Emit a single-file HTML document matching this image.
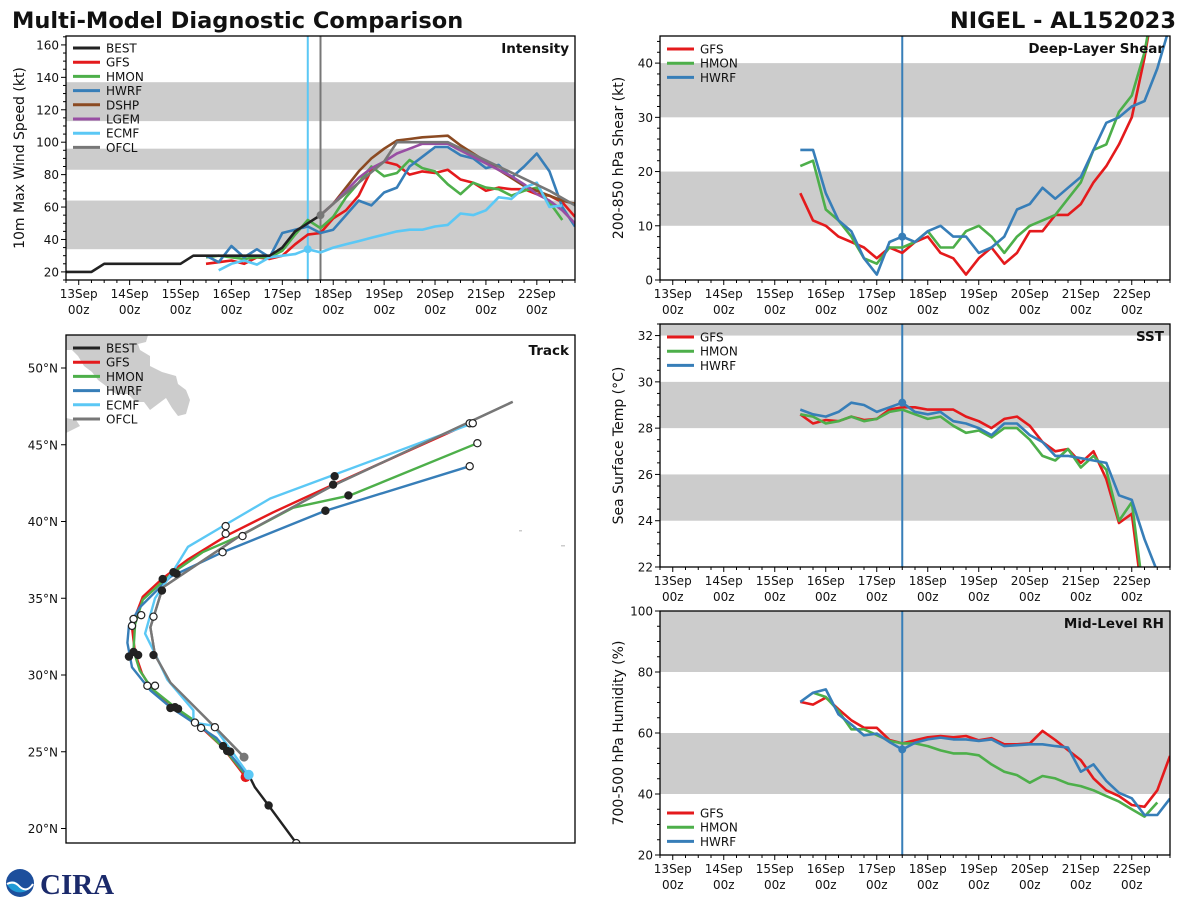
<!DOCTYPE html>
<html><head><meta charset="utf-8">
<style>
html,body{margin:0;padding:0;background:#fff;}
svg{display:block;font-family:"DejaVu Sans","Liberation Sans",sans-serif;}
</style></head>
<body>
<svg id="fig" width="1200" height="900" viewBox="0 0 1200 900" xmlns="http://www.w3.org/2000/svg">
<rect width="1200" height="900" fill="#fff"/>
<text x="12" y="28" font-size="22.5" font-weight="bold" fill="#111">Multi-Model Diagnostic Comparison</text>
<text x="1176" y="28" font-size="22.5" font-weight="bold" fill="#111" text-anchor="end">NIGEL - AL152023</text>
<g id="logo">
<circle cx="20" cy="883" r="14" fill="#1d4f9c"/>
<path d="M7,884 Q14,878 20,886 Q27,894 33,883 A14,14 0 0 1 7,884 Z" fill="#1f9ad6"/>
<path d="M7,884 Q14,880 20,887 Q27,893 33,884" stroke="#fff" stroke-width="2" fill="none"/>
<text x="40" y="894" font-family="Liberation Serif,serif" font-size="29" font-weight="bold" fill="#1b2a6b">CIRA</text>
</g>
</svg>
<script>
// ---------- shared ----------
const dayLabels = ['13Sep','14Sep','15Sep','16Sep','17Sep','18Sep','19Sep','20Sep','21Sep','22Sep'];
const hourLabel = '00z';
const nowDay = 4.5;
const ofclDay = 4.75;
const C = {BEST:'#222222',GFS:'#e41a1c',HMON:'#4daf4a',HWRF:'#377eb8',DSHP:'#8b4a22',LGEM:'#984ea3',ECMF:'#5bc8f5',OFCL:'#777777'};

// ---------- intensity data (kt), 6-hourly ----------
const intBestStart = -0.25;
const intBest = [20,20,20,25,25,25,25,25,25,25,30,30,30,30,30,30,30,35,45,50,55];
const intGfsStart = 2.5;
const intGfs = [25,26,27,25,29,28,30,37,43,44,53,58,67,83,88,86,80,82,81,83,77,75,70,72,71,71,68,67,63,54];
const intHmonStart = 2.5;
const intHmon = [29,30,29,28,29,29,33,43,52,47,54,66,75,85,79,81,89,84,82,74,68,75,72,71,67,70,72,63,52];
const intHwrfStart = 2.5;
const intHwrf = [30,26,36,29,34,29,44,46,48,44,46,55,64,61,69,72,85,91,97,97,92,90,84,86,78,85,93,82,60,48];
const intDshpStart = 4.75;
const intDshp = [55,62,72,82,90,96,101,102,103,103.5,104,98,93,88,83,78,73,70,67,64,62];
const intLgemStart = 4.75;
const intLgem = [55,62,70,78,84,88,93,96,99,99,99,95,91,87,83,79,74,68,64,58,50];
const intEcmfStart = 2.75;
const intEcmf = [21,25,27,24.5,29,30,31,34,32,35,37,39,41,43,45,46,46,48,49,56,55,58,66,65,72,75,60,61];
const intOfclDays = [4.75,5.0,5.5,6.0,6.25,7.25,8.25,9.25,9.75];
const intOfcl = [55,62,75,88,100,100,85,70,61];

// ---------- shear (kt) ----------
const shrStart = 2.5;
const shrGfs = [16,11,10,8,7,6,4,6,5,7,8,5,4,1,4,6,3,5,9,9,12,12,14,18,21,25,30,41,55];
const shrHmon = [21,22,13,11,8,4,3,6,6,7,9,6,6,9,10,8,5,8,10,11,12,15,18,24,25,31,34,42,55];
const shrHwrf = [24,24,16,11,9,4,1,7,8,7,9,10,8,8,5,6,8,13,14,17,15,17,19,24,29,30,32,33,39,47];

// ---------- SST (C) ----------
const sstStart = 2.5;
const sstGfs = [28.6,28.2,28.35,28.3,28.5,28.35,28.4,28.8,28.9,28.9,28.8,28.8,28.8,28.5,28.3,28.0,28.4,28.5,28.1,27.4,27.0,27.1,26.5,27.0,25.8,23.9,24.3,20.0];
const sstHmon = [28.6,28.5,28.2,28.3,28.5,28.3,28.4,28.7,28.8,28.6,28.4,28.5,28.1,27.8,27.9,27.6,28.0,28.0,27.5,26.8,26.6,27.1,26.3,26.8,26.2,24.0,24.8,20.5];
const sstHwrf = [28.8,28.6,28.5,28.7,29.1,29.0,28.7,28.9,29.1,28.7,28.6,28.7,28.3,28.2,28.0,27.7,28.2,28.2,27.7,27.4,26.8,26.8,26.7,26.6,26.5,25.1,24.9,23.2,21.8,20.0];

// ---------- RH (%) ----------
const rhGfsStart = 2.5;
const rhGfs = [70.2,69.3,71.6,67.8,64.2,61.7,61.7,57.7,56.6,57.6,58.6,59,58.6,59,57.6,58.3,56.3,56.3,56.6,60.7,57.7,54.4,51.1,45.1,41.2,39.3,36.4,35.8,41.2,52.5];
const rhHmonStart = 2.75;
const rhHmon = [73.2,71.8,67.2,61.2,61.2,59.3,57.4,56.6,56.6,55.7,54.3,53.3,53.3,52.7,49.7,47.3,46.2,43.7,45.9,45.1,43.4,42.6,41.2,39.3,37.5,35,32.6,37.2];
const rhHwrfStart = 2.5;
const rhHwrf = [70.2,73.2,74.3,66.1,62.8,59.2,59.8,57,54.6,56.8,57.9,58.5,57.9,57.9,57.4,57.9,55.7,56,56.3,56.3,55.7,55.2,47.3,49.7,44.3,40.4,38.6,33.1,33.1,38.5];

// ---------- track (lon, lat) ----------
const trkBest = [[-49.0,17.8],[-50.0,19.05],[-51.8,21.5],[-52.7,22.7],[-53.1,23.5]];
const trkGfs = [[-53.3,23.35],[-54.8,25.3],[-56.3,26.7],[-58.2,27.9],[-59.5,29.2],[-60.05,30.1],[-60.5,31.4],[-60.7,33.1],[-60.5,33.8],[-60.0,35.1],[-58.7,36.3],[-57.1,37.5],[-54.5,39.1],[-51.5,40.6],[-47.6,42.4],[-38.7,46.4]];
const trkHmon = [[-53.3,23.5],[-54.8,25.3],[-56.3,26.8],[-57.9,27.9],[-59.4,29.1],[-60.2,30.3],[-60.6,31.6],[-60.5,33.3],[-60.0,34.9],[-58.9,35.9],[-58.0,36.7],[-56.1,38.0],[-53.7,39.05],[-50.2,40.9],[-46.5,41.7],[-38.2,45.1]];
const trkHwrf = [[-53.2,23.5],[-55.2,25.9],[-56.7,26.9],[-58.2,27.9],[-59.5,29.0],[-60.7,30.5],[-61.0,32.1],[-60.9,33.2],[-60.2,34.4],[-58.2,36.4],[-54.8,38.0],[-48.1,40.7],[-38.7,43.6]];
const trkEcmf = [[-53.1,23.5],[-55.4,26.7],[-56.7,26.9],[-56.7,27.7],[-58.4,29.7],[-59.2,31.4],[-59.85,32.7],[-59.2,35.0],[-58.0,36.8],[-57.05,38.35],[-54.6,39.8],[-51.7,41.5],[-38.5,46.4]];
const trkOfcl = [[-53.4,24.65],[-55.3,26.6],[-56.6,27.9],[-58.2,29.5],[-59.2,31.3],[-59.5,33.1],[-58.7,35.7],[-53.7,39.05],[-47.7,42.3],[-35.9,47.8]];
const trkMarkLon = [-51.8,-50.0,-54.77,-54.5,-54.3,-56.6,-56.2,-55.3,-58.2,-57.9,-57.7,-59.7,-59.2,-60.9,-60.6,-60.3,-59.3,-60.6,-60.7,-60.1,-59.3,-58.7,-58.0,-57.8,-58.75,-54.6,-54.6,-53.5,-54.8,-47.6,-47.5,-46.6,-48.1,-38.7,-38.5,-38.2,-38.7];
const trkMarkLat = [21.5,19.05,25.37,25.05,25.0,26.9,26.55,26.6,27.85,27.9,27.8,29.3,29.3,31.2,31.5,31.3,31.3,33.65,33.2,33.9,33.8,36.25,36.7,36.6,35.5,39.7,39.2,39.05,38.0,42.4,42.95,41.7,40.7,46.4,46.4,45.1,43.6];
const trkMarkFill = [1,0,1,1,1,0,0,0,1,1,1,0,0,1,1,1,1,0,0,0,0,1,1,1,1,0,0,0,0,1,1,1,1,0,0,0,0];
const latTicks = [20,25,30,35,40,45,50];

// ---------- drawing ----------
const svg = document.getElementById('fig');
const NS = 'http://www.w3.org/2000/svg';
function mk(tag, attrs, parent){
  const e = document.createElementNS(NS, tag);
  for (const k in attrs) e.setAttribute(k, attrs[k]);
  (parent||svg).appendChild(e);
  return e;
}
let clipId = 0;

function tsPanel(p){
  const g = mk('g', {});
  
  
  const W = p.x1 - p.x0, H = p.y1 - p.y0;
  const xs = d => p.x0 + (d + 0.25) / 10 * W;
  const ys = v => p.y1 - (v - p.ymin) / (p.ymax - p.ymin) * H;
  const id = 'clip' + (clipId++);
  const cp = mk('clipPath', {id: id}, g);
  mk('rect', {x: p.x0, y: p.y0, width: W, height: H}, cp);
  const inner = mk('g', {'clip-path': 'url(#' + id + ')'}, g);
  p.bands.forEach(b => {
    const r = mk('rect', {x: p.x0, y: ys(b[1]), width: W, height: ys(b[0]) - ys(b[1]), fill: '#cccccc'}, inner);
    
    
  });
  p.vlines.forEach(v => {
    const l = mk('line', {x1: xs(v.d), x2: xs(v.d), y1: p.y0, y2: p.y1, stroke: v.c, 'stroke-width': 2}, inner);
    
    
  });
  p.series.forEach(s => {
    const pts = s.vals.map((v, i) => {
      const d = s.days ? s.days[i] : s.start + 0.25 * i;
      return xs(d).toFixed(1) + ',' + ys(v).toFixed(1);
    }).join(' ');
    const pl = mk('polyline', {points: pts, fill: 'none', stroke: s.c, 'stroke-width': 2.6, 'stroke-linejoin': 'round'}, inner);
    
    
  });
  (p.marks || []).forEach(m => {
    const c = mk('circle', {cx: xs(m.d), cy: ys(m.v), r: 4, fill: m.c}, inner);
    
    
  });
  mk('rect', {x: p.x0, y: p.y0, width: W, height: H, fill: 'none', stroke: '#000', 'stroke-width': 1.3}, g);
  for (let q = 0; q <= 40; q++) {
    const d = q / 4 - 0.25;
    if (d < -0.25 || d > 9.75) continue;
    const major = Math.abs(d - Math.round(d)) < 1e-6;
    mk('line', {x1: xs(d), x2: xs(d), y1: p.y1, y2: p.y1 + (major ? 5 : 3), stroke: '#000', 'stroke-width': 1}, g);
  }
  dayLabels.forEach((lab, i) => {
    const t1 = mk('text', {x: xs(i), y: p.y1 + 18, 'font-size': 12, 'text-anchor': 'middle', fill: '#111'}, g);
    t1.textContent = lab;
    
    
    const t2 = mk('text', {x: xs(i), y: p.y1 + 34, 'font-size': 12, 'text-anchor': 'middle', fill: '#111'}, g);
    t2.textContent = hourLabel;
    
    
  });
  for (let v = p.ymin; v <= p.ymax + 1e-6; v += p.yMinor) {
    const vv = Math.round(v * 1000) / 1000;
    const major = Math.abs(vv / p.yMajor - Math.round(vv / p.yMajor)) < 1e-6 && vv >= p.yFirst;
    if (vv < p.ymin) continue;
    mk('line', {x1: p.x0, x2: p.x0 - (major ? 5 : 3), y1: ys(vv), y2: ys(vv), stroke: '#000', 'stroke-width': 1}, g);
    if (major) {
      const t = mk('text', {x: p.x0 - 7, y: ys(vv) + 4.5, 'font-size': 12, 'text-anchor': 'end', fill: '#111'}, g);
      t.textContent = String(vv);
      
      
    }
  }
  const yl = mk('text', {x: 0, y: 0, 'font-size': 14, 'text-anchor': 'middle', fill: '#111', transform: 'translate(' + p.ylx + ',' + ((p.y0 + p.y1) / 2) + ') rotate(-90)'}, g);
  yl.textContent = p.ylabel;
  
  
  const tt = mk('text', {x: p.x1 - 6, y: p.y0 + 17, 'font-size': 13.5, 'font-weight': 'bold', 'text-anchor': 'end', fill: '#111'}, g);
  tt.textContent = p.title;
  
  
  legend(g, p.x0 + 7, p.legY, p.series.map(s => s.key).filter((k, i, a) => a.indexOf(k) === i), p.legOrder);
}

function legend(g, x, y, keys, order){
  const lg = mk('g', {}, g);
  
  
  (order || keys).forEach((k, i) => {
    const yy = y + i * 14.2;
    mk('line', {x1: x, x2: x + 27, y1: yy, y2: yy, stroke: C[k], 'stroke-width': 3}, lg);
    const t = mk('text', {x: x + 33, y: yy + 4.5, 'font-size': 12, fill: '#111'}, lg);
    t.textContent = k;
    
    
  });
}

tsPanel({name: 'intensity-panel', x0: 66, x1: 575, y0: 36, y1: 280, ymin: 15, ymax: 165.5, yMajor: 20, yMinor: 5, yFirst: 20,
  bands: [[34, 64], [83, 96], [113, 137]], ylabel: '10m Max Wind Speed (kt)', ylx: 24, title: 'Intensity', legY: 48,
  legOrder: ['BEST','GFS','HMON','HWRF','DSHP','LGEM','ECMF','OFCL'],
  vlines: [{d: nowDay, c: C.ECMF}, {d: ofclDay, c: C.OFCL}],
  series: [
    {key: 'GFS', c: C.GFS, vals: intGfs, start: intGfsStart},
    {key: 'HMON', c: C.HMON, vals: intHmon, start: intHmonStart},
    {key: 'HWRF', c: C.HWRF, vals: intHwrf, start: intHwrfStart},
    {key: 'DSHP', c: C.DSHP, vals: intDshp, start: intDshpStart},
    {key: 'LGEM', c: C.LGEM, vals: intLgem, start: intLgemStart},
    {key: 'ECMF', c: C.ECMF, vals: intEcmf, start: intEcmfStart},
    {key: 'OFCL', c: C.OFCL, vals: intOfcl, days: intOfclDays},
    {key: 'BEST', c: C.BEST, vals: intBest, start: intBestStart}
  ],
  marks: [{d: nowDay, v: intEcmf[(nowDay - intEcmfStart) * 4], c: C.ECMF}, {d: ofclDay, v: intOfcl[0], c: C.OFCL}]
});

tsPanel({name: 'shear-panel', x0: 660, x1: 1170, y0: 36, y1: 280, ymin: 0, ymax: 45, yMajor: 10, yMinor: 2, yFirst: 0,
  bands: [[10, 20], [30, 40]], ylabel: '200-850 hPa Shear (kt)', ylx: 623, title: 'Deep-Layer Shear', legY: 49,
  vlines: [{d: nowDay, c: C.HWRF}],
  series: [
    {key: 'GFS', c: C.GFS, vals: shrGfs, start: shrStart},
    {key: 'HMON', c: C.HMON, vals: shrHmon, start: shrStart},
    {key: 'HWRF', c: C.HWRF, vals: shrHwrf, start: shrStart}
  ],
  marks: [{d: nowDay, v: shrHwrf[8], c: C.HWRF}]
});

tsPanel({name: 'sst-panel', x0: 660, x1: 1170, y0: 324, y1: 567, ymin: 22, ymax: 32.5, yMajor: 2, yMinor: 0.5, yFirst: 22,
  bands: [[24, 26], [28, 30], [32, 34]], ylabel: 'Sea Surface Temp (°C)', ylx: 623, title: 'SST', legY: 337,
  vlines: [{d: nowDay, c: C.HWRF}],
  series: [
    {key: 'GFS', c: C.GFS, vals: sstGfs, start: sstStart},
    {key: 'HMON', c: C.HMON, vals: sstHmon, start: sstStart},
    {key: 'HWRF', c: C.HWRF, vals: sstHwrf, start: sstStart}
  ],
  marks: [{d: nowDay, v: sstHwrf[8], c: C.HWRF}]
});

tsPanel({name: 'rh-panel', x0: 660, x1: 1170, y0: 611, y1: 855, ymin: 20, ymax: 100, yMajor: 20, yMinor: 5, yFirst: 20,
  bands: [[40, 60], [80, 100]], ylabel: '700-500 hPa Humidity (%)', ylx: 623, title: 'Mid-Level RH', legY: 813,
  vlines: [{d: nowDay, c: C.HWRF}],
  series: [
    {key: 'GFS', c: C.GFS, vals: rhGfs, start: rhGfsStart},
    {key: 'HMON', c: C.HMON, vals: rhHmon, start: rhHmonStart},
    {key: 'HWRF', c: C.HWRF, vals: rhHwrf, start: rhHwrfStart}
  ],
  marks: [{d: nowDay, v: rhHwrf[8], c: C.HWRF}]
});

(function(){
  const x0 = 66, x1 = 575, y0 = 335, y1 = 843;
  const lonL = -65, latT = 52.15, ppd = 15.35;
  const xs = lon => x0 + (lon - lonL) * ppd;
  const ys = lat => y0 + (latT - lat) * ppd;
  const g = mk('g', {});
  
  
  const cp = mk('clipPath', {id: 'trkclip'}, g);
  mk('rect', {x: x0, y: y0, width: x1 - x0, height: y1 - y0}, cp);
  const inner = mk('g', {'clip-path': 'url(#trkclip)'}, g);
  const land = mk('path', {d: 'M66,335 L148,335 L146,342 L138,344 L140,350 L150,356 L150,366 L162,372 L176,376 L178,384 L186,390 L190,400 L186,414 L178,416 L172,408 L166,398 L158,404 L150,410 L144,402 L136,402 L128,394 L116,394 L106,386 L98,380 L92,372 L84,366 L78,356 L72,350 L66,350 Z M66,418 L76,420 L80,426 L72,430 L66,433 Z', fill: '#cccccc'}, inner);
  
  
  mk('rect', {x: 519, y: 530, width: 3, height: 1.5, fill: '#ccc'}, inner);
  mk('rect', {x: 561, y: 545, width: 4, height: 1.5, fill: '#ccc'}, inner);
  const tracks = [['OFCL', trkOfcl], ['GFS', trkGfs], ['HMON', trkHmon], ['HWRF', trkHwrf], ['ECMF', trkEcmf], ['OFCL', trkOfcl], ['BEST', trkBest]];
  tracks.forEach(t => {
    const pl = mk('polyline', {points: t[1].map(p => xs(p[0]).toFixed(1) + ',' + ys(p[1]).toFixed(1)).join(' '), fill: 'none', stroke: C[t[0]], 'stroke-width': 2.4, 'stroke-linejoin': 'round'}, inner);
    
    
  });
  trkMarkLon.forEach((lon, i) => {
    const c = mk('circle', {cx: xs(lon), cy: ys(trkMarkLat[i]), r: 3.6, fill: trkMarkFill[i] ? '#222' : '#fff', stroke: '#222', 'stroke-width': 1.2}, inner);
    
    
  });
  mk('circle', {cx: xs(trkOfcl[0][0]), cy: ys(trkOfcl[0][1]), r: 4.5, fill: C.OFCL}, inner);
  mk('circle', {cx: xs(trkGfs[0][0]), cy: ys(trkGfs[0][1]), r: 5, fill: C.GFS}, inner);
  mk('circle', {cx: xs(trkBest[4][0]), cy: ys(trkBest[4][1]), r: 5, fill: C.ECMF}, inner);
  mk('rect', {x: x0, y: y0, width: x1 - x0, height: y1 - y0, fill: 'none', stroke: '#000', 'stroke-width': 1.3}, g);
  latTicks.forEach(lat => {
    mk('line', {x1: x0, x2: x0 - 5, y1: ys(lat), y2: ys(lat), stroke: '#000'}, g);
    const t = mk('text', {x: x0 - 8, y: ys(lat) + 4.5, 'font-size': 12, 'text-anchor': 'end', fill: '#111'}, g);
    t.textContent = lat + '°N';
    
    
  });
  const tt = mk('text', {x: x1 - 6, y: y0 + 20, 'font-size': 13.5, 'font-weight': 'bold', 'text-anchor': 'end', fill: '#111'}, g);
  tt.textContent = 'Track';
  
  
  legend(g, x0 + 7, 348, null, ['BEST','GFS','HMON','HWRF','ECMF','OFCL']);
})();
</script>
</body></html>
